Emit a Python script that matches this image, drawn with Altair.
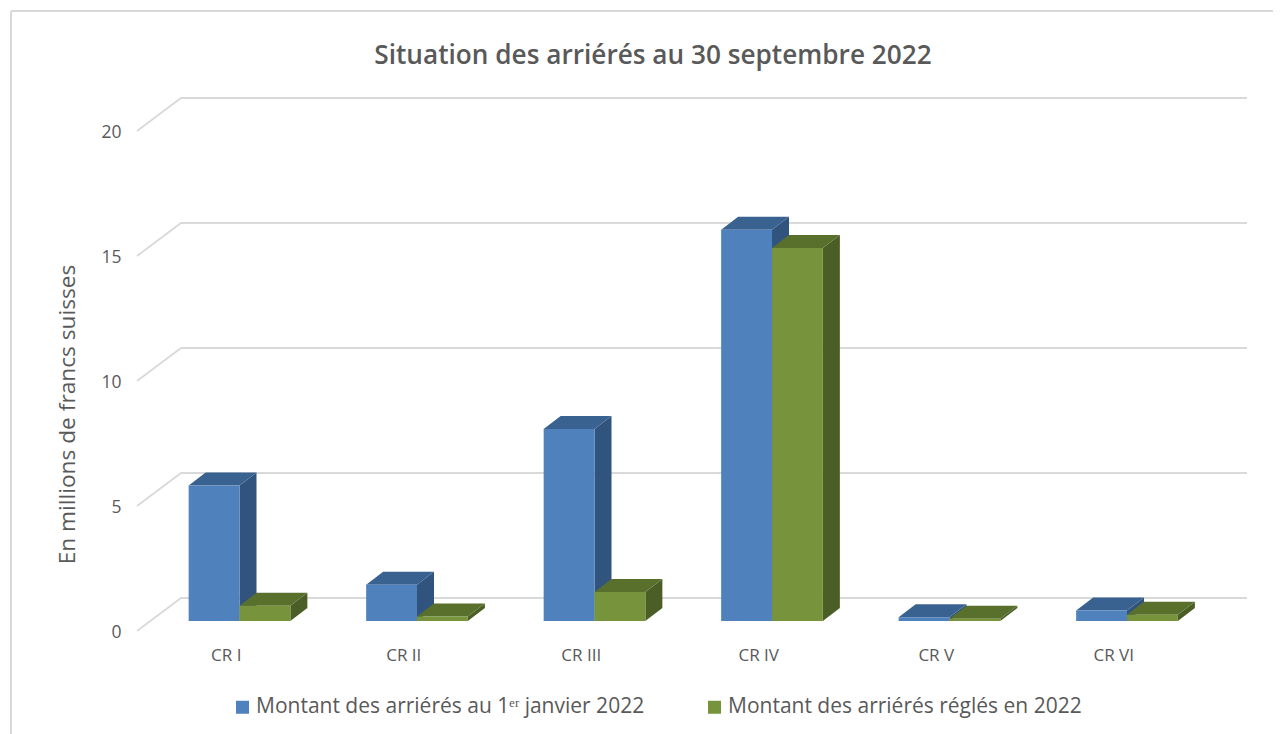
import altair as alt
import pandas as pd

categories = ["CR I", "CR II", "CR III", "CR IV", "CR V", "CR VI"]
blue_values = [5.42, 1.45, 7.68, 15.65, 0.15, 0.42]
green_values = [0.61, 0.18, 1.16, 14.92, 0.09, 0.25]
series_names = ["Montant des arriérés au 1ᵉʳ janvier 2022", "Montant des arriérés réglés en 2022"]
front_colors = ["#4F81BD", "#77933C"]
top_colors = ["#3A6291", "#59702D"]
side_colors = ["#31547F", "#4B5E25"]
grid_ticks = [0, 5, 10, 15, 20]

INK = "#595959"
FONT = "Open Sans"
BAR_START = 0.291
BAR_W = 0.2865
DEPTH_X = 0.0958
DEPTH_Y = 0.52
BACK_Y = 0.92
FRONT_Y = -0.4
BACK_X = 0.248
X_MAX = 6.2535
Y_MAX = 20.92

fronts, tops, sides = [], [], []
for s, (name, vals) in enumerate(zip(series_names, [blue_values, green_values])):
    for i, v in enumerate(vals):
        l = i + BAR_START + s * BAR_W
        r = l + BAR_W
        key = f"{s}-{i}"
        fronts.append(dict(series=name, s=s, cat=categories[i], l=l, r=r, v=v, base=0.0))
        tops += [dict(s=s, key=key, y=v, a=l, b=r),
                 dict(s=s, key=key, y=v + DEPTH_Y, a=l + DEPTH_X, b=r + DEPTH_X)]
        sides += [dict(s=s, key=key, x=r, y=v, y0=0.0),
                  dict(s=s, key=key, x=r + DEPTH_X, y=v + DEPTH_Y, y0=DEPTH_Y)]
fronts, tops, sides = map(pd.DataFrame, (fronts, tops, sides))

grid = []
for t in grid_ticks:
    grid += [dict(t=t, x=0.0, y=t + FRONT_Y, o=0),
             dict(t=t, x=BACK_X, y=t + BACK_Y, o=1),
             dict(t=t, x=X_MAX, y=t + BACK_Y, o=2)]
grid = pd.DataFrame(grid)

x_scale = alt.Scale(domain=[0, X_MAX], nice=False, zero=False)
y_scale = alt.Scale(domain=[FRONT_Y, Y_MAX], nice=False, zero=False)
label_expr = "[" + ",".join(f"'{c}'" for c in categories) + "][floor(datum.value)]"

gridlines = alt.Chart(grid).mark_line(color="#D9D9D9", strokeWidth=1.8, clip=False).encode(
    x=alt.X("x:Q", scale=x_scale, axis=alt.Axis(
        values=[i + 0.5 for i in range(len(categories))], labelExpr=label_expr, title=None,
        domain=False, ticks=False, grid=False, labelFont=FONT, labelFontSize=17,
        labelColor=INK, labelPadding=16.5, labelFlush=False, labelOverlap=False)),
    y=alt.Y("y:Q", scale=y_scale, axis=alt.Axis(
        values=grid_ticks, title="En millions de francs suisses", domain=False, ticks=False,
        grid=False, labelFont=FONT, labelFontSize=17.5, labelColor=INK, labelPadding=16,
        labelOffset=11.5, titleFont=FONT, titleFontSize=22.7, titleFontWeight="normal",
        titleColor=INK, titleX=-58, titleY=316)),
    detail="t:N", order="o:Q")


def side_layer(s):
    return alt.Chart(sides[sides.s == s]).mark_area(orient="vertical", color=side_colors[s]).encode(
        x=alt.X("x:Q", scale=x_scale), y=alt.Y("y:Q", scale=y_scale, stack=None), y2="y0:Q", detail="key:N")


def top_layer(s):
    return alt.Chart(tops[tops.s == s]).mark_area(orient="horizontal", color=top_colors[s]).encode(
        y=alt.Y("y:Q", scale=y_scale), x=alt.X("a:Q", scale=x_scale, stack=None), x2="b:Q", detail="key:N")


front_layer = alt.Chart(fronts).mark_bar(stroke=None).encode(
    x=alt.X("l:Q", scale=x_scale), x2="r:Q",
    y=alt.Y("v:Q", scale=y_scale), y2="base:Q",
    color=alt.Color("series:N", scale=alt.Scale(domain=series_names, range=front_colors), legend=alt.Legend(
        title=None, orient="none", legendX=95, legendY=598.5, direction="horizontal",
        symbolType="square", symbolSize=169, symbolStrokeWidth=0, labelFont=FONT, labelFontSize=21,
        labelColor=INK, labelLimit=500, columnPadding=59, symbolOffset=0, labelOffset=3)))

frame_df = pd.DataFrame({"k": [0]})
frame_top = alt.Chart(frame_df).mark_rule(color="#D9D9D9", strokeWidth=2).encode(
    x=alt.value(-126), x2=alt.value(1136), y=alt.value(-87))
frame_left = alt.Chart(frame_df).mark_rule(color="#D9D9D9", strokeWidth=2).encode(
    x=alt.value(-126), y=alt.value(-87), y2=alt.value(636))

chart = alt.layer(
    frame_top, frame_left, gridlines,
    side_layer(0), top_layer(0), side_layer(1), top_layer(1), front_layer,
).properties(
    width=1110, height=533,
    title=alt.TitleParams("Situation des arriérés au 30 septembre 2022", anchor="middle", dx=-39,
                          offset=-59, font=FONT, fontSize=26.2, fontWeight=600, color=INK),
    autosize=alt.AutoSizeParams(type="none"),
    padding={"left": 129, "top": 90, "right": 26, "bottom": 103},
).configure_view(stroke=None)

chart.save("out.html", embed_options={"renderer": "svg", "actions": False})
